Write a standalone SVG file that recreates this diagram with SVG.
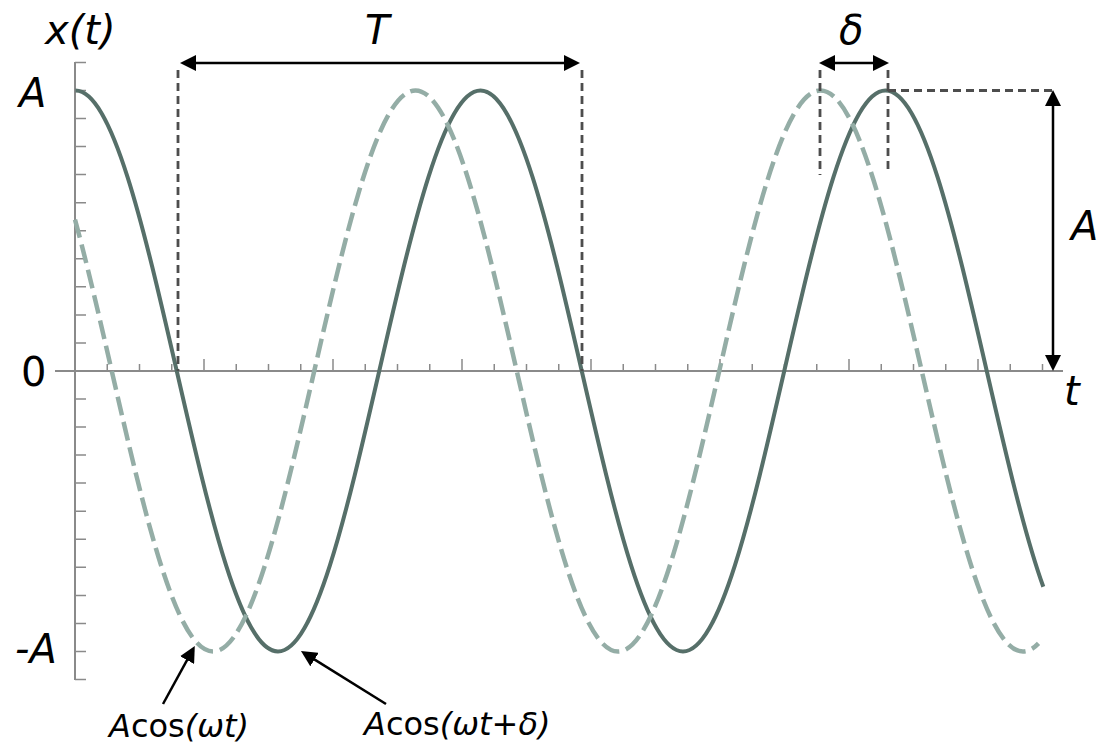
<svg xmlns="http://www.w3.org/2000/svg" width="1108" height="743" viewBox="0 0 1108 743">
<style>
.lbl{font-family:"DejaVu Sans","Liberation Sans",sans-serif;fill:#000}
.big{font-size:40px;font-style:italic}
.small{font-size:32px}
.it{font-style:italic}
.axis{stroke:#8a8a8a;stroke-width:2;fill:none}
.tick{stroke:#8a8a8a;stroke-width:1.5;fill:none}
.guide{stroke:#4d4d4d;stroke-width:2.8;stroke-dasharray:8 5;fill:none}
.arr{stroke:#000;stroke-width:2.5;fill:none}
.solid{stroke:#566f69;stroke-width:4;fill:none}
.dashed{stroke:#94ada6;stroke-width:4.5;fill:none;stroke-dasharray:19 7}
</style>
<defs>
<marker id="ah" markerUnits="userSpaceOnUse" markerWidth="16" markerHeight="16" viewBox="0 0 16 16" refX="5" refY="8" orient="auto-start-reverse">
<path d="M0,0 L16,8 L0,16 z" fill="#000"/>
</marker>
</defs>
<rect width="1108" height="743" fill="#fff"/>
<g id="axes">
<line class="axis" x1="75" y1="62" x2="75" y2="680"/>
<line class="axis" x1="55" y1="371" x2="1063" y2="371"/>
<path class="tick" d="M75,62.5H86M75,90.5H86M75,118.5H86M75,146.6H86M75,174.6H86M75,202.7H86M75,230.7H86M75,258.8H86M75,286.8H86M75,314.9H86M75,342.9H86M75,399H86M75,427H86M75,455H86M75,483H86M75,511.2H86M75,539.3H86M75,567.3H86M75,595.4H86M75,623.4H86M75,651.5H86M75,679.5H86"/>
<path class="tick" d="M107.25,371V364M139.5,371V364M171.75,371V364M204,371V359M236.25,371V364M268.5,371V364M300.75,371V364M333,371V359M365.25,371V364M397.5,371V364M429.75,371V364M462,371V359M494.25,371V364M526.5,371V364M558.75,371V364M591,371V359M623.25,371V364M655.5,371V364M687.75,371V364M720,371V359M752.25,371V364M784.5,371V364M816.75,371V364M849,371V359M881.25,371V364M913.5,371V364M945.75,371V364M978,371V359M1010.25,371V364M1042.5,371V364"/>
</g>
<g id="curve-solid">
<path class="solid" d="M75.5,90.5 C112.15,90.5 143.73,227.3 176.75,371 C209.77,514.7 241.35,651.5 278,651.5 C314.65,651.5 346.23,514.7 379.25,371 C412.27,227.3 443.85,90.5 480.5,90.5 C517.15,90.5 548.73,227.3 581.75,371 C614.77,514.7 646.35,651.5 683,651.5 C719.65,651.5 751.23,514.7 784.25,371 C817.27,227.3 848.85,90.5 885.5,90.5 C922.15,90.5 953.73,227.3 986.75,371 C1005.6,453 1024.45,534.4 1043.3,586.8"/>
</g>
<g id="curve-dashed">
<path class="dashed" d="M75,219.6 C87.25,264.5 99.5,317.7 111.75,371 C144.77,514.7 176.35,651.5 213,651.5 C249.65,651.5 281.23,514.7 314.25,371 C347.27,227.3 378.850,90.5 415.5,90.5 C452.15,90.5 483.73,227.3 516.75,371 C549.77,514.7 581.35,651.5 618,651.5 C654.65,651.5 686.23,514.7 719.25,371 C752.27,227.3 783.85,90.5 820.5,90.5 C857.15,90.5 888.73,227.3 921.75,371 C954.77,514.7 986.35,651.5 1023,651.5 C1028.17,651.5 1033.33,648.8 1038.5,643.4"/>
</g>
<g id="connectors">
<line class="guide" x1="178" y1="70" x2="178" y2="371"/>
<line class="guide" x1="582" y1="70" x2="582" y2="371"/>
<line class="guide" x1="820" y1="70" x2="820" y2="175"/>
<line class="guide" x1="888" y1="70" x2="888" y2="170"/>
<line class="guide" x1="888" y1="90.5" x2="1053" y2="90.5"/>
<line class="arr" x1="191" y1="63" x2="569" y2="63" marker-start="url(#ah)" marker-end="url(#ah)"/>
<line class="arr" x1="830" y1="63" x2="878" y2="63" marker-start="url(#ah)" marker-end="url(#ah)"/>
<line class="arr" x1="1053" y1="101" x2="1053" y2="360" marker-start="url(#ah)" marker-end="url(#ah)"/>
<line class="arr" x1="163" y1="704" x2="189.5" y2="655.7" marker-end="url(#ah)"/>
<line class="arr" x1="386" y1="704" x2="310.3" y2="656.9" marker-end="url(#ah)"/>
</g>
<g id="labels">
<text class="lbl big" x="45" y="44">x(t)</text>
<text class="lbl big" x="19" y="107">A</text>
<text class="lbl big" x="21" y="386" style="font-style:normal">0</text>
<text class="lbl big" x="15" y="663">-A</text>
<text class="lbl big" x="1064" y="405">t</text>
<text class="lbl big" x="365" y="44">T</text>
<text class="lbl big" x="839" y="44">δ</text>
<text class="lbl big" x="1071" y="240">A</text>
<text class="lbl small" x="109" y="737"><tspan class="it">A</tspan>cos<tspan class="it">(ωt)</tspan></text>
<text class="lbl small" x="364" y="735"><tspan class="it">A</tspan>cos<tspan class="it">(ωt</tspan>+<tspan class="it">δ)</tspan></text>
</g>
</svg>
